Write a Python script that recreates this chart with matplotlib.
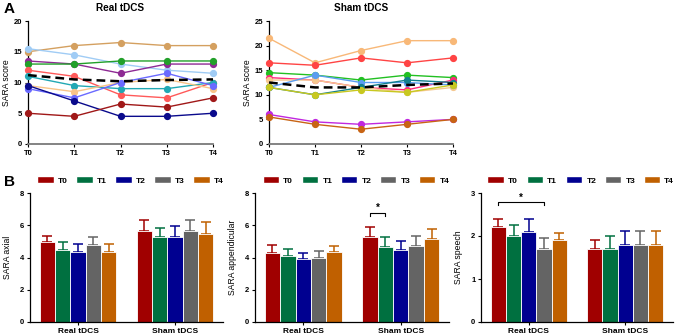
import numpy as np
import matplotlib
matplotlib.use("Agg")
import matplotlib.pyplot as plt
from matplotlib.patches import Patch

plt.rcParams['font.family'] = ['Liberation Sans', 'DejaVu Sans']

times = ["T0", "T1", "T2", "T3", "T4"]
groups = ["Real tDCS", "Sham tDCS"]

# panel A - individual patients, real tDCS
real_patients = [
    [15, 16, 16.5, 16, 16],
    [15.5, 14.5, 13, 12, 11.5],
    [13.5, 13, 11.5, 13, 13],
    [13, 13, 13.5, 13.5, 13.5],
    [12, 11, 8, 7.5, 10],
    [11, 9.5, 9, 9, 10],
    [9.5, 8.5, 10, 10.5, 9],
    [9, 7.5, 10, 11.5, 9.5],
    [9.5, 7, 4.5, 4.5, 5],
    [5, 4.5, 6.5, 6, 7.5],
]
real_colors = ["#D4A060", "#A0CCF5", "#8E2A94", "#22A02A", "#FF5A5A",
               "#22A8B4", "#F8C488", "#6A6AFF", "#0A0A8C", "#A01818"]
real_mean = [11.2, 10.5, 10.2, 10.4, 10.5]

# panel A - individual patients, sham tDCS
sham_patients = [
    [21.5, 16.5, 19, 21, 21],
    [16.5, 16, 17.5, 16.5, 17.5],
    [14.5, 14, 13, 14, 13.5],
    [13.5, 13, 11.5, 11, 13],
    [13, 13, 11.5, 10.5, 11.5],
    [11.5, 14, 12.5, 12.5, 12],
    [11.5, 10, 11.5, 13, 12.5],
    [11.5, 10, 11, 10.5, 12],
    [6, 4.5, 4, 4.5, 5],
    [5.5, 4, 3, 4, 5],
]
sham_colors = ["#F8B878", "#FF4444", "#22C022", "#FF2A7A", "#F5C890",
               "#5A9CF0", "#12808E", "#C8C820", "#C028E0", "#C86414"]
sham_mean = [12.5, 11.5, 11.5, 12.0, 12.3]

# panel B - means and SD (upper error only)
axial_mean = [[4.95, 4.45, 4.35, 4.75, 4.35], [5.65, 5.25, 5.25, 5.65, 5.45]]
axial_err = [[0.4, 0.5, 0.5, 0.5, 0.5], [0.7, 0.6, 0.7, 0.7, 0.75]]
append_mean = [[4.25, 4.1, 3.9, 4.0, 4.35], [5.25, 4.65, 4.45, 4.7, 5.15]]
append_err = [[0.5, 0.4, 0.4, 0.4, 0.35], [0.65, 0.6, 0.6, 0.65, 0.6]]
speech_mean = [[2.2, 2.0, 2.1, 1.7, 1.9], [1.7, 1.7, 1.8, 1.8, 1.8]]
speech_err = [[0.2, 0.25, 0.3, 0.25, 0.17], [0.2, 0.3, 0.32, 0.32, 0.32]]
bar_colors = ["#A00000", "#007040", "#000090", "#646464", "#C06000"]

W, H = 676, 335
fig = plt.figure(figsize=(W / 100, H / 100), dpi=100)


def px_axes(x0, x1, ytop, ybot):
    return fig.add_axes([x0 / W, (H - ybot) / H, (x1 - x0) / W, (ybot - ytop) / H])


def style(ax):
    ax.spines['top'].set_visible(False)
    ax.spines['right'].set_visible(False)
    ax.spines['left'].set_linewidth(0.9)
    ax.spines['bottom'].set_linewidth(1.3)
    ax.spines['bottom'].set_color("#7a7a7a")
    ax.tick_params(length=2.5, width=0.8, labelsize=5.5, pad=1.5)
    for t in ax.get_xticklabels() + ax.get_yticklabels():
        t.set_fontweight('bold')


def line_panel(ax, patients, colors, mean, ymax, title):
    x = np.arange(len(times))
    for vals, c in zip(patients, colors):
        ax.plot(x, vals, color=c, lw=1.0, marker='o', ms=4.2, clip_on=False, zorder=3)
    ax.plot(x, mean, color='black', lw=1.8, ls=(0, (3.5, 2)), zorder=4)
    ax.set_xlim(0, 4)
    ax.set_ylim(0, ymax)
    ax.set_yticks(np.arange(0, ymax + 1, 5))
    ax.set_xticks(x)
    ax.set_xticklabels(times)
    ax.set_ylabel("SARA score", fontsize=6.2, labelpad=2)
    ax.set_title(title, fontsize=7.2, fontweight='bold', pad=7)
    style(ax)


ax1 = px_axes(28, 213, 21, 144)
line_panel(ax1, real_patients, real_colors, real_mean, 20, "Real tDCS")
ax2 = px_axes(269, 453, 21, 144)
line_panel(ax2, sham_patients, sham_colors, sham_mean, 25, "Sham tDCS")


def bar_panel(ax, means, errs, ymax, ystep, ylabel):
    bw = 0.158
    centers = np.arange(len(groups))
    for i, t in enumerate(times):
        xs = centers + (i - 2) * bw
        m = [means[g][i] for g in range(len(groups))]
        e = [errs[g][i] for g in range(len(groups))]
        ax.bar(xs, m, width=bw, color=bar_colors[i], edgecolor='white', linewidth=0.6, zorder=2)
        ax.errorbar(xs, m, yerr=[np.zeros(len(e)), e], fmt='none', ecolor=bar_colors[i],
                    elinewidth=1.1, capsize=3.5, capthick=1.1, zorder=1)
    ax.set_xlim(-0.495, 1.495)
    ax.set_ylim(0, ymax)
    ax.set_yticks(np.arange(0, ymax + 0.01, ystep))
    ax.set_xticks(centers)
    ax.set_xticklabels(groups)
    ax.set_ylabel(ylabel, fontsize=6.2, labelpad=6)
    style(ax)
    ax.tick_params(axis='x', labelsize=6)
    ax.spines['bottom'].set_color('black')
    ax.spines['bottom'].set_linewidth(0.9)
    handles = [Patch(facecolor=c, edgecolor='white') for c in bar_colors]
    leg = ax.legend(handles, times, ncol=5, loc='lower center', bbox_to_anchor=(0.52, 1.04),
                    frameon=False, fontsize=6, handlelength=2.0, handleheight=1.0,
                    columnspacing=1.0, handletextpad=0.5, borderaxespad=0)
    for t in leg.get_texts():
        t.set_fontweight('bold')
    return bw


def bracket(ax, x0, x1, y, h):
    ax.plot([x0, x0, x1, x1], [y - h, y, y, y - h], color='black', lw=0.8, clip_on=False)
    ax.text((x0 + x1) / 2, y, "*", ha='center', va='bottom', fontsize=7, fontweight='bold')


ax3 = px_axes(30, 223, 193, 322)
bar_panel(ax3, axial_mean, axial_err, 8, 2, "SARA axial")
ax4 = px_axes(255, 449, 193, 322)
bw = bar_panel(ax4, append_mean, append_err, 8, 2, "SARA appendicular")
bracket(ax4, 1 - 2 * bw, 1 - bw, 6.75, 0.15)
ax5 = px_axes(481, 673, 193, 322)
bar_panel(ax5, speech_mean, speech_err, 3, 1, "SARA speech")
bracket(ax5, -2 * bw, bw, 2.78, 0.06)

fig.text(4 / W, 1 - 9 / H, "A", fontsize=11, fontweight='bold', va='center')
fig.text(4 / W, 1 - 182 / H, "B", fontsize=11, fontweight='bold', va='center')

fig.savefig("out.png", dpi=100)
